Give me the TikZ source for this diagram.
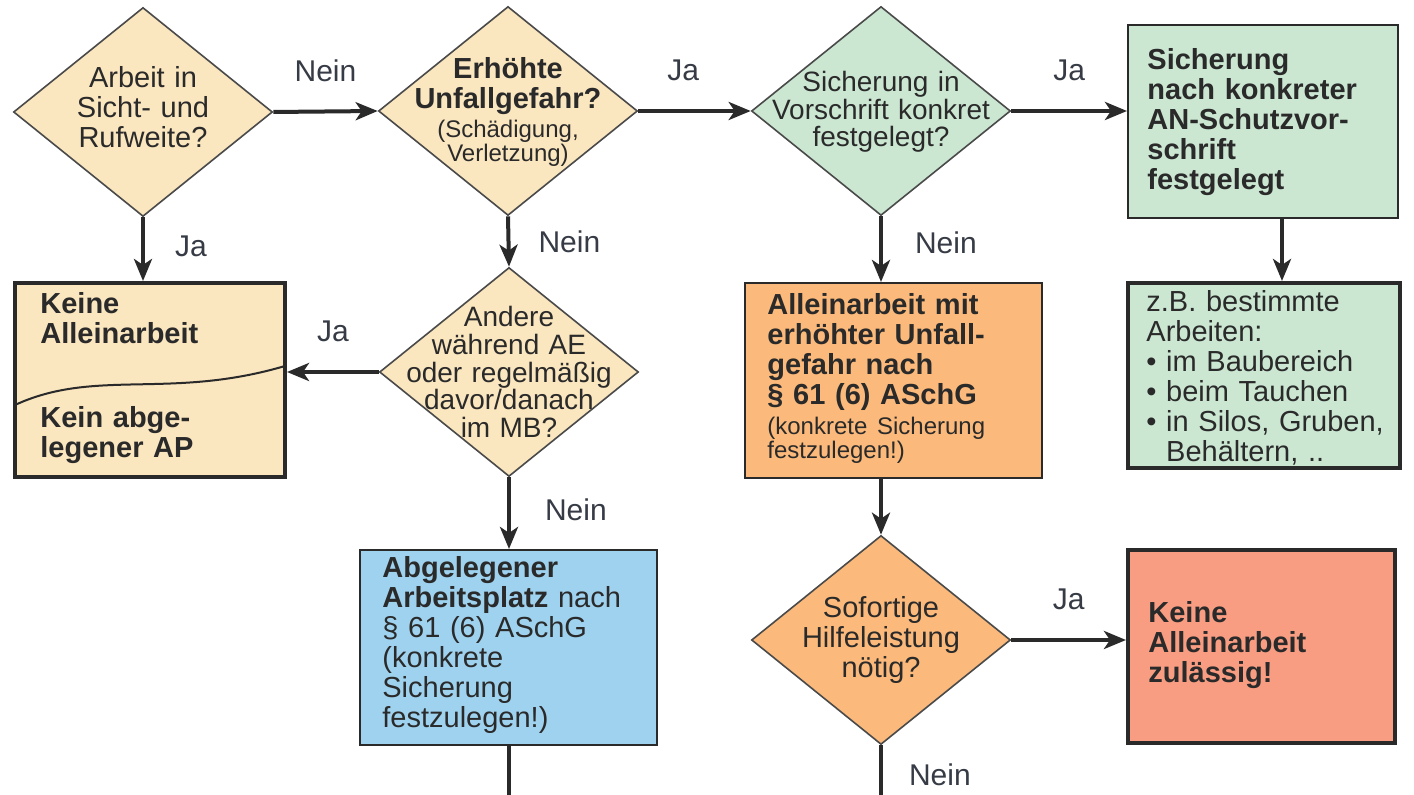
\documentclass[tikz,border=0pt]{standalone}
\usepackage{fontspec}
\setmainfont{Liberation Sans}
\usetikzlibrary{shapes.geometric,arrows.meta,calc}
\definecolor{beige}{HTML}{FAE6BF}
\definecolor{mint}{HTML}{CBE7D2}
\definecolor{apricot}{HTML}{FBBA7B}
\definecolor{sky}{HTML}{9FD2EE}
\definecolor{salmon}{HTML}{F89D82}
\definecolor{ink}{HTML}{2A2A2A}
\definecolor{edgec}{HTML}{4A4A4A}
\definecolor{labc}{HTML}{363B45}
\newcommand{\fsmain}{\fontsize{14.5}{15}\selectfont}
\newcommand{\fsdia}{\fontsize{14}{13.8}\selectfont}
\newcommand{\fssml}{\fontsize{12}{11.8}\selectfont}
\newcommand{\fslab}{\fontsize{15}{16}\selectfont}
\begin{document}
\begin{tikzpicture}[x=0.5pt,y=-0.5pt,
  dia/.style={shape=diamond, draw=edgec, line width=0.8pt, minimum width=129.5pt, minimum height=104.5pt, inner sep=0pt},
  diatext/.style={text=ink, align=center, text width=140pt, inner sep=0pt, font=\fsdia},
  box/.style={draw=ink, line width=1pt, inner sep=0pt},
  thickbox/.style={box, line width=2pt},
  boxtext/.style={text=ink, align=left, text width=140pt, inner sep=0pt, anchor=west, font=\fsmain},
  arr/.style={draw=ink, line width=2pt, -{Stealth[length=11pt,width=9pt,inset=3pt]}},
  plain/.style={draw=ink, line width=2pt},
  lab/.style={text=labc, font=\fslab, inner sep=0pt},
]
\useasboundingbox (0,0) rectangle (1414,795);
\fill[white] (0,0) rectangle (1414,795);

% diamonds
\node[dia, fill=beige] (d1) at (143,112) {};
\node[diatext, font=\fsmain] (d1t) at (143,107) {Arbeit in\\Sicht- und\\Rufweite?};
\node[dia, fill=beige] (d2) at (508,111) {};
\node[diatext] (d2t) at (508,112) {{\fsmain\bfseries Erhöhte\\Unfallgefahr?\par}\vspace{2.5pt}{\fssml (Schädigung,\\Verletzung)\par}};
\node[dia, fill=mint] (d3) at (881,111) {};
\node[diatext] (d3t) at (881,112) {Sicherung in\\Vorschrift konkret\\festgelegt?};
\node[dia, fill=beige] (d4) at (509,372) {};
\node[diatext] (d4t) at (509,372) {Andere\\während AE\\oder regelmäßig\\davor/danach\\im MB?};
\node[dia, fill=apricot] (d5) at (881,640) {};
\node[diatext, font=\fsmain] (d5t) at (881,640) {Sofortige\\Hilfeleistung\\nötig?};

% boxes
\node[thickbox, fill=beige, minimum width=135pt, minimum height=97pt] (l1) at (150,380) {};
\draw[ink, line width=1pt] (15,405) .. controls (95,368) and (170,400) .. (285,366);
\node[boxtext, font=\fsmain\bfseries] (l1a) at (40,318) {Keine\\Alleinarbeit};
\node[boxtext, font=\fsmain\bfseries] (l1b) at (40,435) {Kein abge-\\legener AP};

\node[box, fill=mint, minimum width=135pt, minimum height=96.5pt] (r1) at (1263,121.5) {};
\node[boxtext, font=\fsmain\bfseries] (r1t) at ($(r1.west)+(20,1)$) {Sicherung\\nach konkreter\\AN-Schutzvor-\\schrift\\festgelegt};

\node[thickbox, fill=mint, minimum width=136pt, minimum height=92.5pt] (r2) at (1264,375.5) {};
\node[boxtext] (r2t) at ($(r2.west)+(20,2)$) {z.B. bestimmte\\Arbeiten:\\• im Baubereich\\• beim Tauchen\\• in Silos, Gruben,\\\phantom{• }Behältern, ..};

\node[box, fill=apricot, minimum width=148.5pt, minimum height=97.5pt] (o) at (893.5,380.5) {};
\node[boxtext] (ot) at ($(o.west)+(23,-2)$) {{\fsmain\bfseries Alleinarbeit mit\\erhöhter Unfall-\\gefahr nach\\§ 61 (6) ASchG\par}\vspace{3pt}{\fssml (konkrete Sicherung\\festzulegen!)\par}};

\node[box, fill=sky, minimum width=148.5pt, minimum height=97.5pt] (b) at (508.5,647.5) {};
\node[boxtext] (bt) at ($(b.west)+(23,-2)$) {\textbf{Abgelegener}\\\textbf{Arbeitsplatz} nach\\§ 61 (6) ASchG\\(konkrete\\Sicherung\\festzulegen!)};

\node[thickbox, fill=salmon, minimum width=133.5pt, minimum height=96.5pt] (k) at (1261.5,646.5) {};
\node[boxtext, font=\fsmain\bfseries] (kt) at ($(k.west)+(22,-1)$) {Keine\\Alleinarbeit\\zulässig!};

% end points
\coordinate (bend) at (509,795);
\coordinate (d5end) at (881,795);
\coordinate (r1s) at (1282,218);

% connectors
\draw[arr] (d1.east) -- node[lab, above=14pt] (l1n) {Nein} (d2.west);
\draw[arr] (d2.east) -- node[lab, above=14pt, pos=0.4] (l2j) {Ja} (d3.west);
\draw[arr] (d3.east) -- node[lab, above=14pt] (l3j) {Ja} (d3.east -| r1.west);
\draw[arr] (r1s |- r1.south) -- (r1s |- r2.north);
\draw[arr] (d1.south) -- node[lab, right=15pt, pos=0.45] (l4j) {Ja} (d1.south |- l1.north);
\draw[arr] (d2.south) -- node[lab, right=14pt] (l5n) {Nein} (d4.north);
\draw[arr] (d4.west) -- node[lab, above=14pt] (l6j) {Ja} (d4.west -| l1.east);
\draw[arr] (d4.south) -- node[lab, right=17pt, pos=0.45] (l7n) {Nein} (d4.south |- b.north);
\draw[plain] (b.south) -- (b.south |- bend);
\draw[arr] (d3.south) -- node[lab, right=16pt, pos=0.4] (l8n) {Nein} (d3.south |- o.north);
\draw[arr] (d5.north |- o.south) -- (d5.north);
\draw[arr] (d5.east) -- node[lab, above=14pt] (l9j) {Ja} (d5.east -| k.west);
\draw[plain] (d5.south) -- node[lab, right=13pt, pos=0.6] (l10n) {Nein} (d5end);
\end{tikzpicture}
\end{document}
